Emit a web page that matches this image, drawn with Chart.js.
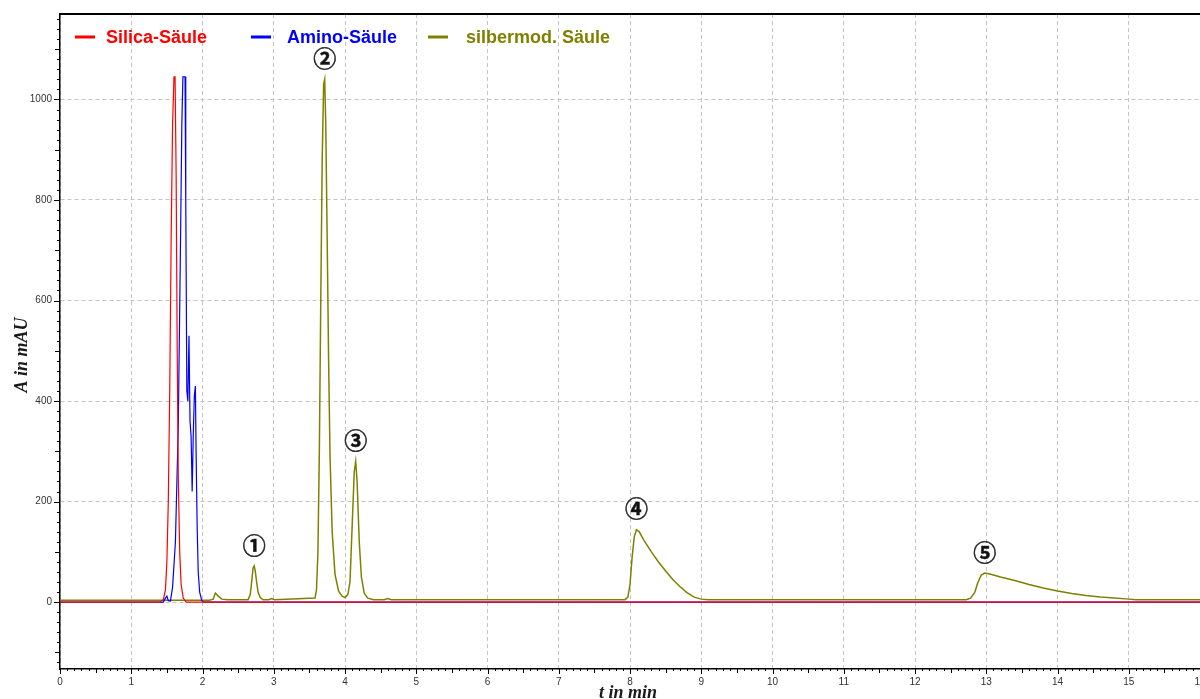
<!DOCTYPE html>
<html><head><meta charset="utf-8">
<script src="https://cdn.jsdelivr.net/npm/chart.js@4.4.1/dist/chart.umd.min.js"></script>
<style>html,body{margin:0;padding:0;background:#fff;} canvas{display:block}</style>
</head><body>
<canvas id="c" width="1200" height="699"></canvas>
<script>
const seriesNames = ['Silica-Säule', 'Amino-Säule', 'silbermod. Säule'];
const seriesColors = ['#ff0000', '#0000ff', '#808000'];

const silicaTime = [0, 1.40, 1.45, 1.48, 1.50, 1.52, 1.54, 1.56, 1.58, 1.60, 1.615, 1.63, 1.645, 1.66, 1.68, 1.70, 1.73, 1.77, 16];
const silicaAbs  = [0, 0,    5,    25,   80,   200,  420,  720,  950,  1045, 1045,  850,  500,   250,  100,  35,   8,    0,    0];

const aminoTime = [0, 1.45, 1.48, 1.50, 1.52, 1.55, 1.58, 1.62, 1.66, 1.69, 1.71, 1.725, 1.745, 1.755, 1.765, 1.78, 1.795, 1.81, 1.825, 1.84, 1.855, 1.87, 1.885, 1.90, 1.91, 1.925, 1.94, 1.96, 1.99, 2.02, 16];
const aminoAbs  = [0, 0,    8,    12,   3,    2,    30,   120,  350,  700,  950,  1045,  1045,  1045,  800,   420,  400,   530,  360,   330,  220,   330,  410,   430,  300,  150,   60,   20,   3,    0,    0];

const silberTime = [0, 2.10, 2.15, 2.18, 2.22, 2.27, 2.35, 2.64, 2.67, 2.69, 2.71, 2.725, 2.74, 2.76, 2.78, 2.81, 2.85, 2.93, 2.97, 3.01, 3.58, 3.60, 3.62, 3.64, 3.66, 3.68, 3.70, 3.715, 3.73, 3.75, 3.77, 3.79, 3.82, 3.86, 3.91, 3.96, 4.00, 4.04, 4.07, 4.10, 4.13, 4.15, 4.17, 4.20, 4.23, 4.27, 4.32, 4.40, 4.55, 4.60, 4.65, 4.72, 7.93, 7.97, 8.00, 8.03, 8.06, 8.09, 8.13, 8.20, 8.30, 8.40, 8.50, 8.60, 8.70, 8.80, 8.90, 9.00, 9.10, 12.72, 12.78, 12.84, 12.88, 12.93, 12.98, 13.05, 13.20, 13.40, 13.60, 13.80, 14.00, 14.20, 14.40, 14.60, 14.80, 15.00, 15.10, 16];
const silberAbs  = [4, 4,    6,    18,   12,   6,    5,    5,    15,   40,   68,   72,    62,   40,   20,   9,    5,    5,    7,    5,    8,    25,   100,  300,  600,  880,  1030, 1040,  950,  720,  480,  290,  140,  55,   22,   12,   9,    15,   40,   150,  260,  280,  240,  120,  50,   18,   8,    5,    5,    7,    5,    5,    5,    10,   35,   90,   130,  144,  140,  122,  100,  80,   62,   45,   31,   19,   10,   6,    5,    5,     8,     20,    38,    54,    58,    56,    50,    43,    35,    28,    22,    17,    13,    10,    8,     6,     5,     5];

const xTickValues = [0, 1, 2, 3, 4, 5, 6, 7, 8, 9, 10, 11, 12, 13, 14, 15, 16];
const yTickValues = [0, 200, 400, 600, 800, 1000];
const peakNames = ['①', '②', '③', '④', '⑤'];
const peakTimes = [2.725, 3.715, 4.15, 8.09, 12.98];
const xTitle = 't in min';
const yTitle = 'A in mAU';

function toPoints(t, a) { return t.map((v, i) => ({x: v, y: a[i]})); }

const overlay = {
  id: 'overlay',
  afterDraw(chart) {
    const ctx = chart.ctx, xs = chart.scales.x, ys = chart.scales.y, ca = chart.chartArea;
    ctx.save();
    ctx.strokeStyle = '#000'; ctx.lineWidth = 2;
    ctx.beginPath(); ctx.moveTo(ca.left, ca.top); ctx.lineTo(ca.right, ca.top); ctx.stroke();
    ctx.lineWidth = 1;
    ctx.beginPath();
    for (let i = 0; i <= 160; i++) {
      const px = Math.round(xs.getPixelForValue(i / 10)) + 0.5;
      const len = (i % 10 === 0) ? 5 : (i % 5 === 0 ? 4 : 2);
      ctx.moveTo(px, ca.bottom); ctx.lineTo(px, ca.bottom + len);
    }
    for (let v = -120; v <= 1160; v += 20) {
      const py = Math.round(ys.getPixelForValue(v)) + 0.5;
      const len = (v % 200 === 0) ? 6 : (v % 100 === 0 ? 5 : 3);
      ctx.moveTo(ca.left, py); ctx.lineTo(ca.left - len, py);
    }
    ctx.stroke();
    const ds = chart.data.datasets[2].data;
    ctx.fillStyle = '#111'; ctx.strokeStyle = '#222'; ctx.lineWidth = 0.5;
    ctx.font = 'bold 23px "Noto Sans CJK JP"';
    ctx.textAlign = 'center'; ctx.textBaseline = 'middle';
    peakNames.forEach((n, i) => {
      let best = ds[0];
      ds.forEach(p => { if (Math.abs(p.x - peakTimes[i]) < Math.abs(best.x - peakTimes[i])) best = p; });
      const px = xs.getPixelForValue(best.x), py = ys.getPixelForValue(best.y) - 21;
      ctx.fillText(n, px, py);
      ctx.strokeText(n, px, py);
    });
    ctx.fillStyle = '#1a1a1a';
    ctx.font = 'italic bold 18px "Liberation Serif"';
    ctx.fillText(xTitle, 628, 693);
    ctx.save();
    ctx.translate(22, 355); ctx.rotate(-Math.PI / 2);
    ctx.font = 'italic bold 18px "Liberation Serif"';
    ctx.fillText(yTitle, 0, 0);
    ctx.restore();
    const lineX = [75, 251, 428], textX = [106, 287, 466];
    ctx.font = 'bold 18px "Liberation Sans"';
    ctx.textAlign = 'left';
    chart.data.datasets.forEach((d, i) => {
      ctx.strokeStyle = d.borderColor; ctx.lineWidth = 3;
      ctx.beginPath(); ctx.moveTo(lineX[i], 37); ctx.lineTo(lineX[i] + 20, 37); ctx.stroke();
      ctx.fillStyle = d.borderColor;
      ctx.fillText(d.label, textX[i], 38);
    });
    ctx.restore();
  }
};

new Chart(document.getElementById('c'), {
  type: 'line',
  data: {
    datasets: [
      {label: seriesNames[0], data: toPoints(silicaTime, silicaAbs), borderColor: seriesColors[0], borderWidth: 1.2},
      {label: seriesNames[1], data: toPoints(aminoTime, aminoAbs), borderColor: seriesColors[1], borderWidth: 1.2},
      {label: seriesNames[2], data: toPoints(silberTime, silberAbs), borderColor: seriesColors[2], borderWidth: 1.5}
    ]
  },
  options: {
    responsive: false, animation: false, devicePixelRatio: 1,
    elements: {point: {radius: 0}, line: {tension: 0}},
    layout: {autoPadding: false, padding: {top: 14, right: 0, left: 0, bottom: 0}},
    plugins: {legend: {display: false}, tooltip: {enabled: false}},
    scales: {
      x: {
        type: 'linear', min: 0, max: 16,
        afterFit(s) { s.height = 30; s.paddingLeft = 0; s.paddingRight = 0; },
        afterBuildTicks(s) { s.ticks = xTickValues.map(v => ({value: v})); },
        ticks: {font: {family: 'Liberation Sans', size: 10}, color: '#333', padding: 7, maxRotation: 0, autoSkip: false, callback: v => String(v)},
        grid: {color: '#c4c4c4', lineWidth: 1, drawTicks: false},
        border: {display: true, color: '#000', width: 1.5, dash: [4, 3]}
      },
      y: {
        type: 'linear', min: -133, max: 1170,
        afterFit(s) { s.width = 60; s.paddingTop = 0; s.paddingBottom = 0; },
        afterBuildTicks(s) { s.ticks = yTickValues.map(v => ({value: v})); },
        ticks: {font: {family: 'Liberation Sans', size: 10}, color: '#333', padding: 8, callback: v => String(v)},
        grid: {color: '#c4c4c4', lineWidth: 1, drawTicks: false},
        border: {display: true, color: '#000', width: 1.5, dash: [4, 3]}
      }
    }
  },
  plugins: [overlay]
});
</script>
</body></html>
